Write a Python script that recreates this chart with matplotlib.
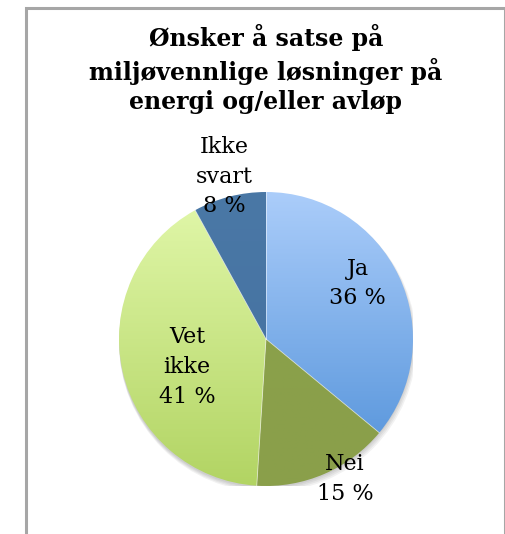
import numpy as np
import matplotlib.pyplot as plt
import matplotlib.patches as patches
from matplotlib.colors import LinearSegmentedColormap

plt.rcParams['font.family'] = ['DejaVu Serif']

title = "Ønsker å satse på\nmiljøvennlige løsninger på\nenergi og/eller avløp"
labels = ["Ja", "Nei", "Vet\nikke", "Ikke\nsvart"]
values = [36, 15, 41, 8]
# gradient colours per slice (top, bottom)
grad = [("#abcdfa", "#4e8fd8"), ("#8aa24c", "#8a9f4a"),
        ("#e2f8ab", "#b2d463"), ("#4a78a6", "#4470a0")]
# label distance from centre (fraction of radius) and angle tweak in degrees
ldist = [0.73, 1.095, 0.57, 1.14]
ltweak = [6, 6, 7, 0]

fig = plt.figure(figsize=(5.06, 5.34), dpi=100)
W, H = 506, 534
cx, cy, r = 266, H - 339, 147
ax = fig.add_axes([(cx - r) / W, (cy - r) / H, 2 * r / W, 2 * r / H])

# soft shadow under the pie
for i in range(4):
    sh = patches.Circle((0.004 * i, -0.012 - 0.006 * i), 1.0 + 0.004 * i,
                        color="black", alpha=0.05, lw=0, zorder=0)
    ax.add_patch(sh)

wedges, _ = ax.pie(values, startangle=90, counterclock=False, radius=1,
                   colors=["none"] * 4, wedgeprops=dict(lw=0))

for w, (c1, c2) in zip(wedges, grad):
    cmap = LinearSegmentedColormap.from_list("g", [c2, c1])
    img = np.linspace(0, 1, 256).reshape(-1, 1)
    im = ax.imshow(img, cmap=cmap, extent=(-1, 1, -1, 1), origin="lower",
                   aspect="auto", zorder=1)
    im.set_clip_path(w)
    w.set_zorder(2)

# thin light separators between slices
for w in wedges:
    th = np.deg2rad(w.theta1)
    ax.plot([0, np.cos(th)], [0, np.sin(th)], color="white", lw=0.6,
            alpha=0.6, zorder=3)

for w, lab, v, d, t in zip(wedges, labels, values, ldist, ltweak):
    mid = np.deg2rad((w.theta1 + w.theta2) / 2 + t)
    ax.text(d * np.cos(mid), d * np.sin(mid), "%s\n%d %%" % (lab, v),
            ha="center", va="center", fontsize=16, linespacing=1.45,
            color="black", zorder=5, clip_on=False)

ax.set_xlim(-1, 1)
ax.set_ylim(-1, 1)
ax.set_aspect("auto")
ax.set_axis_off()

fig.text(266 / W, 1 - 69 / H, title, ha="center", va="center",
         fontsize=17, fontweight="bold", linespacing=1.3)

# outer frame
frame = patches.Rectangle((26 / W, -0.05), (505 - 26) / W, 1.05 - 8 / H,
                          transform=fig.transFigure, fill=False,
                          edgecolor="#a6a6a6", lw=2.2, clip_on=False)
fig.patches.append(frame)

fig.savefig("out.png", dpi=100)
